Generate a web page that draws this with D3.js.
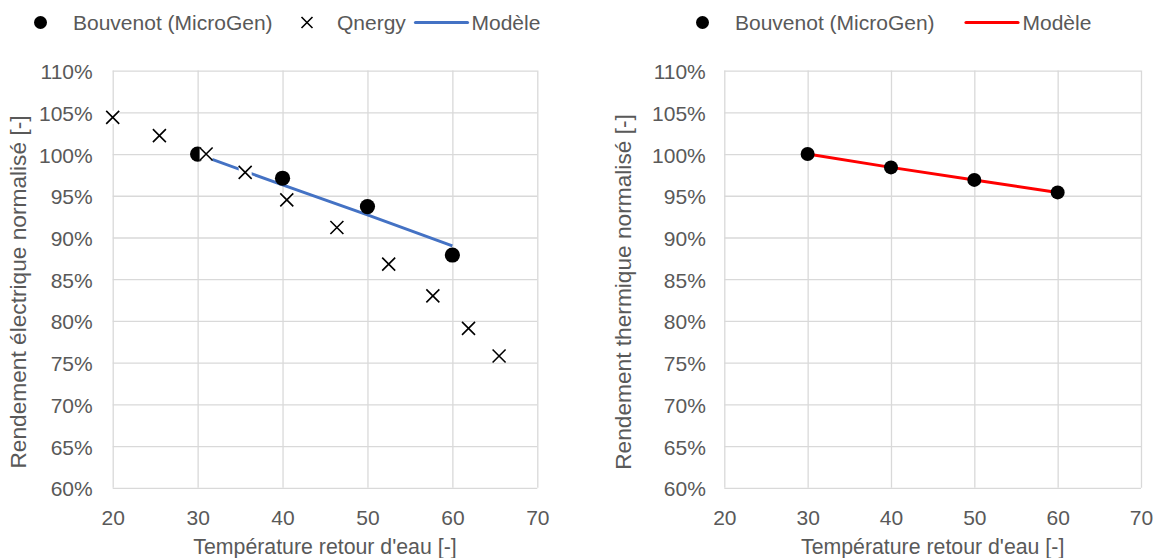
<!DOCTYPE html>
<html><head><meta charset="utf-8">
<script src="https://cdn.jsdelivr.net/npm/d3@7"></script>
<style>
body{margin:0;background:#fff;}
text{font-family:"Liberation Sans",Arial,sans-serif;fill:#595959;}
</style></head>
<body>
<svg id="c" width="1159" height="558"></svg>
<script>
// ---- data ----
const xTicks = [20, 30, 40, 50, 60, 70];
const yTicks = [0.60, 0.65, 0.70, 0.75, 0.80, 0.85, 0.90, 0.95, 1.00, 1.05, 1.10];

const bouvenotElecX = [30, 40, 50, 60];
const bouvenotElecY = [1.000, 0.971, 0.937, 0.879];
const qnergyX = [20.0, 25.5, 31.0, 35.6, 40.5, 46.4, 52.5, 57.7, 61.9, 65.5];
const qnergyY = [1.044, 1.022, 1.000, 0.978, 0.945, 0.912, 0.868, 0.830, 0.791, 0.758];
const modelElecX = [30, 40, 50, 60];
const modelElecY = [1.000, 0.963, 0.927, 0.890];

const bouvenotThermX = [30, 40, 50, 60];
const bouvenotThermY = [1.000, 0.984, 0.969, 0.954];
const modelThermX = [30, 40, 50, 60];
const modelThermY = [1.000, 0.984, 0.969, 0.954];

const xTitle = "Température retour d'eau [-]";
const yTitleLeft = "Rendement électrique normalisé [-]";
const yTitleRight = "Rendement thermique normalisé [-]";

// ---- drawing ----
const svg = d3.select("#c");
const FS = 21;
const gridColor = "#d9d9d9";
const Y0 = 487.8, Y1 = 70.6;

function panel(opt) {
  const x = d3.scaleLinear().domain([20, 70]).range([opt.x0, opt.x1]);
  const y = d3.scaleLinear().domain([0.6, 1.1]).range([Y0, Y1]);
  const g = svg.append("g");
  const w = opt.x1 - opt.x0, h = Y0 - Y1;

  const ya = g.append("g").attr("transform", `translate(${opt.x0},0)`)
    .call(d3.axisLeft(y).tickValues(yTicks).tickSize(-w).tickPadding(opt.pad)
      .tickFormat(d3.format(".0%")));
  ya.selectAll(".tick text").attr("dy", "0.38em");
  const xa = g.append("g").attr("transform", `translate(0,${Y0})`)
    .call(d3.axisBottom(x).tickValues(xTicks).tickSize(-h).tickPadding(22.5)
      .tickFormat(d3.format("d")));
  [ya, xa].forEach(a => {
    a.select(".domain").remove();
    a.selectAll(".tick line").attr("stroke", gridColor).attr("stroke-width", 1.3);
    a.selectAll("text").attr("font-size", FS).attr("fill", "#595959")
      .attr("font-family", '"Liberation Sans",Arial,sans-serif');
  });

  // titles
  g.append("text").attr("x", (opt.x0 + opt.x1) / 2).attr("y", 553.5)
    .attr("text-anchor", "middle").attr("font-size", 21.3).text(xTitle);
  g.append("text").attr("transform", `translate(${opt.tx},${opt.ty}) rotate(-90)`)
    .attr("text-anchor", "middle").attr("font-size", 22.7).text(opt.yTitle);

  // model line
  const line = d3.line().x(d => x(d[0])).y(d => y(d[1]));
  g.append("path").datum(d3.zip(opt.mX, opt.mY)).attr("d", line)
    .attr("fill", "none").attr("stroke", opt.mColor).attr("stroke-width", 3);

  // circles
  g.selectAll("circle.b").data(d3.zip(opt.bX, opt.bY)).join("circle")
    .attr("cx", d => x(d[0])).attr("cy", d => y(d[1])).attr("r", opt.r).attr("fill", "#000");

  // crosses
  if (opt.qX) {
    const cs = g.selectAll("g.q").data(d3.zip(opt.qX, opt.qY)).join("g")
      .attr("transform", d => `translate(${x(d[0])},${y(d[1])})`);
    cs.append("rect").attr("x", -6.5).attr("y", -6.5).attr("width", 13).attr("height", 13).attr("fill", "#fff");
    cs.append("path").attr("d", "M-6.5,-6.5L6.5,6.5M-6.5,6.5L6.5,-6.5").attr("stroke", "#000").attr("stroke-width", 1.6);
  }
}

panel({x0: 112.7, x1: 537.3, tx: 26, ty: 292, pad: 20, r: 7.6, yTitle: yTitleLeft,
  bX: bouvenotElecX, bY: bouvenotElecY, qX: qnergyX, qY: qnergyY,
  mX: modelElecX, mY: modelElecY, mColor: "#4472C4"});
panel({x0: 724.3, x1: 1141, tx: 631, ty: 292, pad: 18.5, r: 7, yTitle: yTitleRight,
  bX: bouvenotThermX, bY: bouvenotThermY,
  mX: modelThermX, mY: modelThermY, mColor: "#FF0000"});

// ---- legends ----
const LY = 22.5;
function ltext(x, t) {
  svg.append("text").attr("x", x).attr("y", LY).attr("dy", "0.35em").attr("font-size", FS).text(t);
}
// left
svg.append("circle").attr("cx", 40.5).attr("cy", LY).attr("r", 6.5).attr("fill", "#000");
ltext(73, "Bouvenot (MicroGen)");
svg.append("path").attr("d", `M${307-5.5},${LY-5.5}L${307+5.5},${LY+5.5}M${307-5.5},${LY+5.5}L${307+5.5},${LY-5.5}`)
  .attr("stroke", "#000").attr("stroke-width", 1.6);
ltext(337, "Qnergy");
svg.append("line").attr("x1", 415.5).attr("x2", 467.5).attr("y1", LY).attr("y2", LY)
  .attr("stroke", "#4472C4").attr("stroke-width", 3.2).attr("stroke-linecap", "round");
ltext(471.5, "Modèle");
// right
svg.append("circle").attr("cx", 702.5).attr("cy", LY).attr("r", 6.5).attr("fill", "#000");
ltext(735, "Bouvenot (MicroGen)");
svg.append("line").attr("x1", 966).attr("x2", 1018).attr("y1", LY).attr("y2", LY)
  .attr("stroke", "#FF0000").attr("stroke-width", 3.2).attr("stroke-linecap", "round");
ltext(1022.5, "Modèle");
</script>
</body></html>
